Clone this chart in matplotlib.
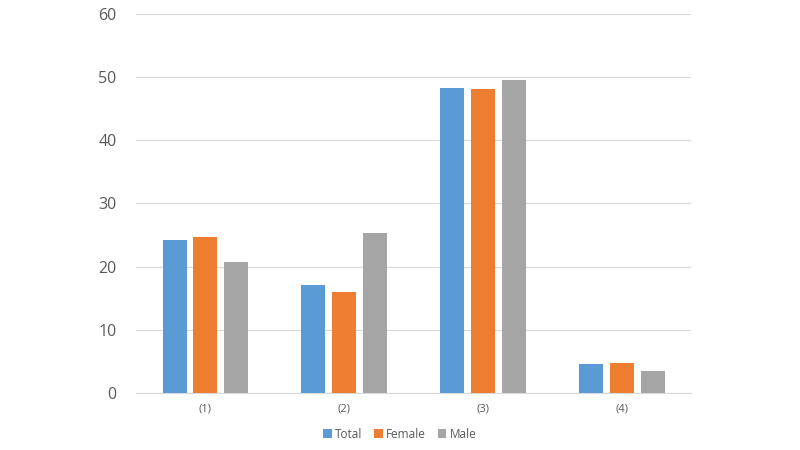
import matplotlib
matplotlib.use("Agg")
import matplotlib.pyplot as plt
import numpy as np

categories = ["(1)", "(2)", "(3)", "(4)"]
total = [24.2, 17.1, 48.2, 4.6]
female = [24.7, 15.9, 48.1, 4.7]
male = [20.7, 25.3, 49.5, 3.4]
series_names = ["Total", "Female", "Male"]
colors = ["#5B9BD5", "#ED7D31", "#A5A5A5"]

plt.rcParams['font.family'] = ['Open Sans', 'DejaVu Sans']

fig = plt.figure(figsize=(8, 4.5), dpi=100)
ax = fig.add_axes([0.170, 0.127, 0.694, 0.842])

x = np.arange(len(categories))
w = 0.173
off = 0.222
for i, (vals, name, c) in enumerate(zip([total, female, male], series_names, colors)):
    ax.bar(x + (i - 1) * off, vals, width=w, color=c, label=name, zorder=3)

ax.set_xlim(-0.5, 3.5)
ax.set_ylim(0, 60)
ax.set_yticks(range(0, 61, 10))
ax.grid(axis='y', color='#D9D9D9', linewidth=0.8, zorder=0)
for s in ['top', 'right', 'left']:
    ax.spines[s].set_visible(False)
ax.spines['bottom'].set_color('#D9D9D9')
ax.spines['bottom'].set_linewidth(0.8)
ax.set_xticks(x)
ax.set_xticklabels(categories, fontsize=8, color='#595959')
ax.tick_params(axis='x', length=0, pad=8)
ax.tick_params(axis='y', length=0, pad=14, labelsize=11.5, labelcolor='#595959')

fig.legend(loc='center', bbox_to_anchor=(0.5, 0.035), ncol=3, frameon=False,
           fontsize=8.5, handlelength=0.7, handleheight=0.7, handletextpad=0.3,
           columnspacing=1.0, labelcolor='#595959')

fig.savefig("out.png", dpi=100)
